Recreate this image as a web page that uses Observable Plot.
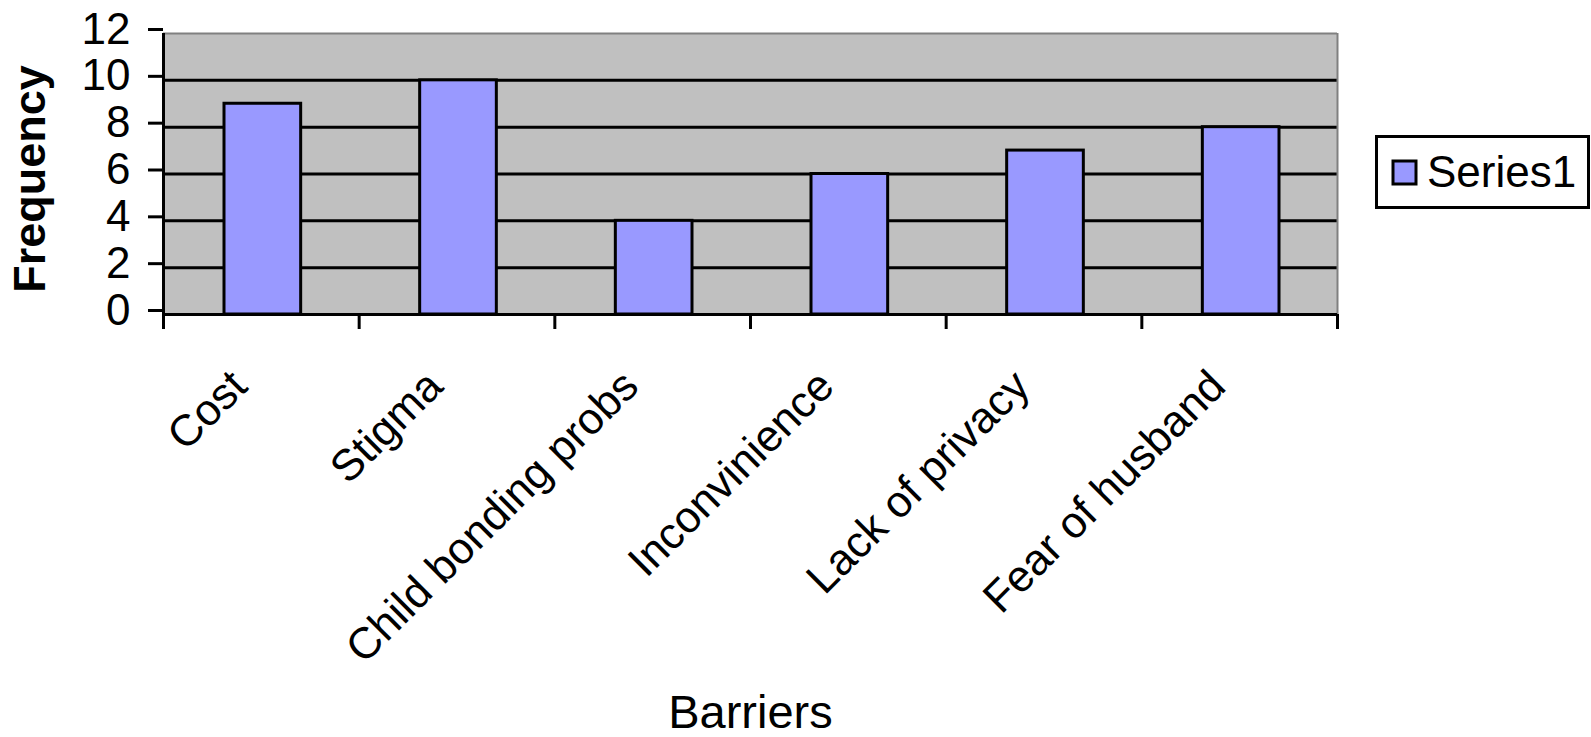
<!DOCTYPE html>
<html>
<head>
<meta charset="utf-8">
<script src="https://cdn.jsdelivr.net/npm/d3@7"></script>
<script src="https://cdn.jsdelivr.net/npm/@observablehq/plot@0.6"></script>
<style>
html, body { margin: 0; padding: 0; background: #fff; }
#wrap { position: relative; width: 1591px; height: 737px; overflow: hidden; }
#wrap > svg { display: block; }
#legend { position: absolute; left: 1375px; top: 135px; width: 215px; height: 74px; box-sizing: border-box;
  border: 3px solid #000; background: #fff; display: flex; align-items: center; padding-left: 15px; }
#legend div { font-family: Arial, "Liberation Sans", sans-serif !important; font-size: 44px !important; color: #000 !important; margin: 0 !important; }
#legend span { display: inline-flex; align-items: center; margin: 0 !important; }
#legend svg { overflow: visible !important; margin-right: 11px !important; }
#legend svg rect { stroke: #000; stroke-width: 3px; }
</style>
</head>
<body>
<div id="wrap"></div>
<script>
const categories = ["Cost", "Stigma", "Child bonding probs", "Inconvinience", "Lack of privacy", "Fear of husband"];
const values = [9, 10, 4, 6, 7, 8];
const yTicks = [0, 2, 4, 6, 8, 10, 12];
const seriesNames = ["Series1"];
const barColors = ["#9999ff"];
const xTitle = "Barriers";
const yTitle = "Frequency";

const font = 'Arial, "Liberation Sans", sans-serif';
const n = categories.length;
const bounds = d3.range(n + 1);
const idx = d3.range(n);

const chart = Plot.plot({
  width: 1591,
  height: 737,
  marginLeft: 163,
  marginRight: 254,
  marginTop: 33,
  marginBottom: 423,
  style: { fontFamily: font, fontSize: "44px", color: "#000", background: "#fff" },
  x: { domain: [0, n], axis: null },
  y: { domain: [yTicks[0], yTicks[yTicks.length - 1]], axis: null },
  marks: [
    Plot.frame({ fill: "#c0c0c0", stroke: null }),
    Plot.ruleY(yTicks.slice(1, -1), { stroke: "#000", strokeWidth: 3 }),
    Plot.ruleY([yTicks[yTicks.length - 1]], { stroke: "#808080", strokeWidth: 2 }),
    Plot.ruleX([n], { stroke: "#808080", strokeWidth: 2 }),
    Plot.rectY(idx, {
      x1: i => i, x2: i => i + 1, y1: 0, y2: i => values[i],
      insetLeft: 61, insetRight: 58,
      fill: barColors[0], stroke: "#000", strokeWidth: 3
    }),
    Plot.ruleY([yTicks[0]], { stroke: "#000", strokeWidth: 3 }),
    Plot.ruleX([0], { stroke: "#000", strokeWidth: 3 }),
    Plot.axisY({ ticks: yTicks, tickSize: 15, tickPadding: 18, strokeWidth: 3, fontSize: 44, dy: -4, label: null, tickFormat: d => String(d) }),
    Plot.axisX({ ticks: bounds, tickSize: 15, strokeWidth: 3, tickFormat: () => "", label: null }),
    Plot.text(idx, {
      x: i => i + 0.5, text: i => categories[i], frameAnchor: "bottom",
      rotate: -45, textAnchor: "end", lineAnchor: "top", dx: -34, dy: 52,
      fontSize: 44, fill: "#000"
    }),
    Plot.text([yTitle], {
      text: d => d, frameAnchor: "left", rotate: -90, textAnchor: "middle", lineAnchor: "top",
      dx: -150, dy: 5, fontSize: 45, fontWeight: "bold", fill: "#000"
    }),
    Plot.text([xTitle], {
      text: d => d, frameAnchor: "bottom", textAnchor: "middle", lineAnchor: "top",
      dy: 380, fontSize: 47, fill: "#000"
    })
  ]
});

const wrap = document.getElementById("wrap");
wrap.appendChild(chart);

const legendBox = document.createElement("div");
legendBox.id = "legend";
const lg = Plot.legend({
  color: { domain: seriesNames, range: barColors },
  legend: "swatches",
  swatchSize: 23,
  className: "lg"
});
legendBox.appendChild(lg);
wrap.appendChild(legendBox);
</script>
</body>
</html>
